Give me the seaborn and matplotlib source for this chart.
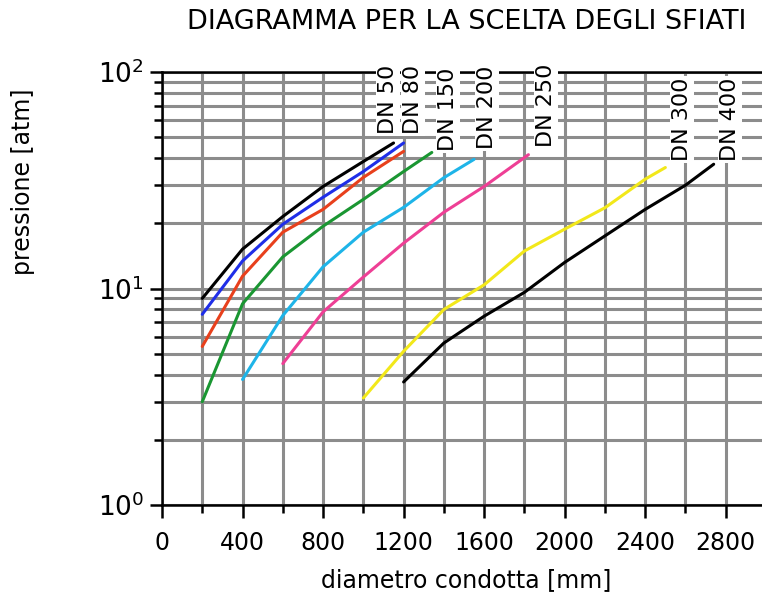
import pandas as pd
import numpy as np
import seaborn as sns
import matplotlib.pyplot as plt
from matplotlib.ticker import MultipleLocator, LogLocator, NullFormatter

# pipe diameter [mm] vs pressure [atm], one curve per valve size
x_dn50 = [200, 400, 600, 800, 1000, 1150]
y_dn50 = [9.0, 15.2, 21.5, 29.6, 38.6, 47.0]
x_dn80 = [200, 400, 600, 800, 1000, 1200]
y_dn80 = [7.6, 13.4, 19.8, 26.4, 34.7, 47.0]
x_dn100 = [200, 400, 600, 800, 1000, 1200]
y_dn100 = [5.4, 11.4, 18.2, 23.2, 32.6, 43.0]
x_dn150 = [200, 400, 600, 800, 1000, 1200, 1340]
y_dn150 = [3.0, 8.5, 14.0, 19.4, 25.8, 34.7, 42.5]
x_dn200 = [400, 600, 800, 1000, 1200, 1400, 1550]
y_dn200 = [3.8, 7.5, 12.6, 18.2, 23.7, 32.5, 39.5]
x_dn250 = [600, 800, 1000, 1200, 1400, 1600, 1820]
y_dn250 = [4.5, 7.8, 11.3, 16.2, 22.5, 29.6, 41.5]
x_dn300 = [1000, 1200, 1400, 1600, 1800, 2000, 2200, 2400, 2500]
y_dn300 = [3.12, 5.13, 8.0, 10.4, 14.9, 18.8, 23.6, 32.0, 36.2]
x_dn400 = [1200, 1400, 1600, 1800, 2000, 2200, 2400, 2600, 2740]
y_dn400 = [3.7, 5.6, 7.45, 9.6, 13.2, 17.5, 23.2, 30.0, 37.5]

series = ['DN 50', 'DN 80', 'DN 100', 'DN 150', 'DN 200', 'DN 250', 'DN 300', 'DN 400']
xs = [x_dn50, x_dn80, x_dn100, x_dn150, x_dn200, x_dn250, x_dn300, x_dn400]
ys = [y_dn50, y_dn80, y_dn100, y_dn150, y_dn200, y_dn250, y_dn300, y_dn400]
colors = ['#000000', '#1f2ee8', '#e8401c', '#1a9632', '#1eb4e8', '#ee3f95', '#f2e81a', '#000000']

# curve labels (text, x, y of the lower end of the label)
label_text = ['DN 50', 'DN 80', 'DN 150', 'DN 200', 'DN 250', 'DN 300', 'DN 400']
label_x = [1122, 1246, 1419, 1613, 1906, 2581, 2819]
label_y = [51.6, 51.6, 43.1, 44.0, 45.0, 38.7, 38.7]

rows = []
for name, xv, yv in zip(series, xs, ys):
    for a, b in zip(xv, yv):
        rows.append({'serie': name, 'diametro': a, 'pressione': b})
df = pd.DataFrame(rows)

sns.set_style('white', {'xtick.bottom': True, 'ytick.left': True,
                        'text.color': 'black', 'xtick.color': 'black',
                        'ytick.color': 'black', 'axes.labelcolor': 'black'})
plt.rcParams['font.family'] = ['DejaVu Sans']

fig = plt.figure(figsize=(7.62, 5.94), dpi=100)
ax = fig.add_axes([162 / 762, 89 / 594, 600 / 762, 433 / 594])

grid_kw = dict(color='#8c8c8c', linewidth=2.2, zorder=0)
ax.set_yscale('log')
ax.set_xlim(0, 2980)
ax.set_ylim(1, 100)
ax.xaxis.set_major_locator(MultipleLocator(400))
ax.xaxis.set_minor_locator(MultipleLocator(200))
ax.yaxis.set_major_locator(LogLocator(base=10))
ax.yaxis.set_minor_locator(LogLocator(base=10, subs=np.arange(2, 10)))
ax.yaxis.set_minor_formatter(NullFormatter())
ax.grid(True, which='both', axis='both', **grid_kw)
ax.set_axisbelow(True)

sns.lineplot(data=df, x='diametro', y='pressione', hue='serie', units='serie',
             palette=dict(zip(series, colors)), estimator=None, sort=False,
             linewidth=2.2, legend=False, ax=ax)

for t, lx, ly in zip(label_text, label_x, label_y):
    ax.text(lx, ly, t, rotation=90, ha='center', va='bottom', fontsize=16,
            color='black', zorder=5, clip_on=False,
            bbox=dict(facecolor='white', edgecolor='none', pad=1.5))

for s in ['left', 'bottom', 'top']:
    ax.spines[s].set_linewidth(1.8)
    ax.spines[s].set_color('black')
ax.spines['right'].set_visible(False)

ax.tick_params(which='major', direction='out', length=9, width=1.8, color='black',
               labelcolor='black', labelsize=17, pad=10, left=True, bottom=True)
ax.tick_params(which='minor', direction='out', length=6, width=1.8, color='black',
               left=True, bottom=True)
ax.tick_params(axis='y', which='major', labelsize=19, pad=4)
ax.tick_params(top=False, right=False, which='both')
ax.set_xlabel('')
ax.set_ylabel('')

fig.text(467 / 762, 1 - 22 / 594, 'DIAGRAMMA PER LA SCELTA DEGLI SFIATI',
         ha='center', va='center', fontsize=19.5, color='black')
fig.text(466 / 762, 1 - 580 / 594, 'diametro condotta [mm]',
         ha='center', va='center', fontsize=17, color='black')
fig.text(23 / 762, 1 - 182 / 594, 'pressione [atm]', rotation=90,
         ha='center', va='center', fontsize=17, color='black')

fig.savefig('out.png', dpi=100)
